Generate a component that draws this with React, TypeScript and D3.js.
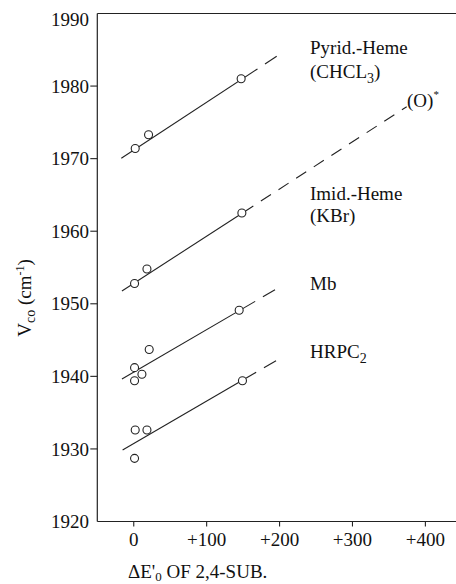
import React from "react";
import * as d3 from "d3";

const yTicks = [1920, 1930, 1940, 1950, 1960, 1970, 1980, 1990];
const xTicks = [0, 100, 200, 300, 400];
const xTickLabels = ["0", "+100", "+200", "+300", "+400"];

// points [ΔE'0, νCO]
const pyridPts: [number, number][] = [[2, 1971.4], [20.3, 1973.3], [147.3, 1981.0]];
const imidPts: [number, number][] = [[1.1, 1952.8], [18.1, 1954.8], [148.3, 1962.5]];
const mbPts: [number, number][] = [[1.1, 1941.2], [1.1, 1939.4], [11.2, 1940.3], [21.2, 1943.7], [144.6, 1949.1]];
const hrpcPts: [number, number][] = [[2, 1932.6], [18.1, 1932.6], [1.1, 1928.7], [149.1, 1939.4]];

// fitted lines: [x0, y0, xSolidEnd, x1, y1]
const pyridLine = [-17.1, 1970.05, 169.7, 197.6, 1984.2];
const imidLine = [-16.2, 1951.76, 164, 374.4, 1977.16];
const mbLine = [-16.2, 1939.64, 166.5, 198.4, 1952.2];
const hrpcLine = [-15.3, 1929.85, 167.9, 198.4, 1942.35];

const W = 456, H = 584;
const FONT = "'Liberation Serif', 'Times New Roman', 'DejaVu Serif', serif";

export default function App() {
  const x = d3.scaleLinear().domain([-50, 442]).range([97.3, 456]);
  const y = d3.scaleLinear().domain([1920, 1990]).range([521.5, 13.5]);
  const stroke = "#222";

  const lineAt = (l: number[], xv: number) => l[1] + ((l[4] - l[1]) * (xv - l[0])) / (l[3] - l[0]);

  const renderLine = (l: number[], key: string, longDash: boolean) => {
    const xs = l[2];
    const ys = lineAt(l, xs);
    return (
      <g key={key}>
        <line x1={x(l[0])} y1={y(l[1])} x2={x(xs)} y2={y(ys)} stroke={stroke} strokeWidth={1.1} />
        <line
          x1={x(xs)} y1={y(ys)} x2={x(l[3])} y2={y(l[4])}
          stroke={stroke} strokeWidth={1.1}
          strokeDasharray={longDash ? "12 9" : "14 9"}
          strokeDashoffset={longDash ? 12 : 14}
        />
      </g>
    );
  };

  const renderPts = (pts: [number, number][], key: string) => (
    <g key={key}>
      {pts.map((p, i) => (
        <circle key={i} cx={x(p[0])} cy={y(p[1])} r={4} fill="white" stroke={stroke} strokeWidth={1.1} />
      ))}
    </g>
  );

  return (
    <svg width={W} height={H} style={{ position: "absolute", left: 0, top: 0, fontFamily: FONT }} fill="#111">
      {/* frame */}
      <line x1={x(-50)} y1={y(1990)} x2={456} y2={y(1990)} stroke={stroke} strokeWidth={1.2} />
      <line x1={x(-50)} y1={y(1990)} x2={x(-50)} y2={y(1920)} stroke={stroke} strokeWidth={1.2} />
      <line x1={x(-50)} y1={y(1920)} x2={456} y2={y(1920)} stroke={stroke} strokeWidth={1.2} />

      {/* y ticks */}
      {yTicks.map((t) => (
        <g key={t}>
          {t !== 1990 && t !== 1920 && (
            <line x1={x(-50) - 7} x2={x(-50)} y1={y(t)} y2={y(t)} stroke={stroke} strokeWidth={1.1} />
          )}
          <text x={89} y={y(t) + (t === 1990 ? 6 : 0)} dy="0.35em" textAnchor="end" fontSize={19}>
            {t}
          </text>
        </g>
      ))}

      {/* x ticks */}
      {xTicks.map((t, i) => (
        <g key={t}>
          <line x1={x(t)} x2={x(t)} y1={y(1920)} y2={y(1920) + 5} stroke={stroke} strokeWidth={1.1} />
          <text x={x(t)} y={546} textAnchor="middle" fontSize={19}>
            {xTickLabels[i]}
          </text>
        </g>
      ))}

      {/* lines */}
      {renderLine(pyridLine, "pl", false)}
      {renderLine(imidLine, "il", true)}
      {renderLine(mbLine, "ml", false)}
      {renderLine(hrpcLine, "hl", false)}

      {renderPts(pyridPts, "pp")}
      {renderPts(imidPts, "ip")}
      {renderPts(mbPts, "mp")}
      {renderPts(hrpcPts, "hp")}

      {/* labels */}
      <text x={310} y={54} fontSize={19}>Pyrid.-Heme</text>
      <text x={310} y={78} fontSize={19}>
        (CHCL<tspan dy={5} fontSize={14}>3</tspan><tspan dy={-5}>)</tspan>
      </text>
      <text x={407} y={107} fontSize={19}>
        (O)<tspan dy={-9} fontSize={11}>*</tspan>
      </text>
      <text x={310} y={200} fontSize={19}>Imid.-Heme</text>
      <text x={310} y={222} fontSize={19}>(KBr)</text>
      <text x={310} y={290} fontSize={19}>Mb</text>
      <text x={310} y={358} fontSize={19}>
        HRPC<tspan dy={5} fontSize={14}>2</tspan>
      </text>

      {/* y label */}
      <text transform="translate(31,298) rotate(-90)" textAnchor="middle" fontSize={19}>
        V<tspan dy={4} fontSize={14}>co</tspan>
        <tspan dy={-4}> (cm</tspan>
        <tspan dy={-7} fontSize={12}>-1</tspan>
        <tspan dy={7}>)</tspan>
      </text>

      {/* x label */}
      <text x={128} y={578} fontSize={19}>
        ΔE'<tspan dy={3} fontSize={13}>0</tspan>
        <tspan dy={-3}>{"  OF 2,4-SUB."}</tspan>
      </text>
    </svg>
  );
}
